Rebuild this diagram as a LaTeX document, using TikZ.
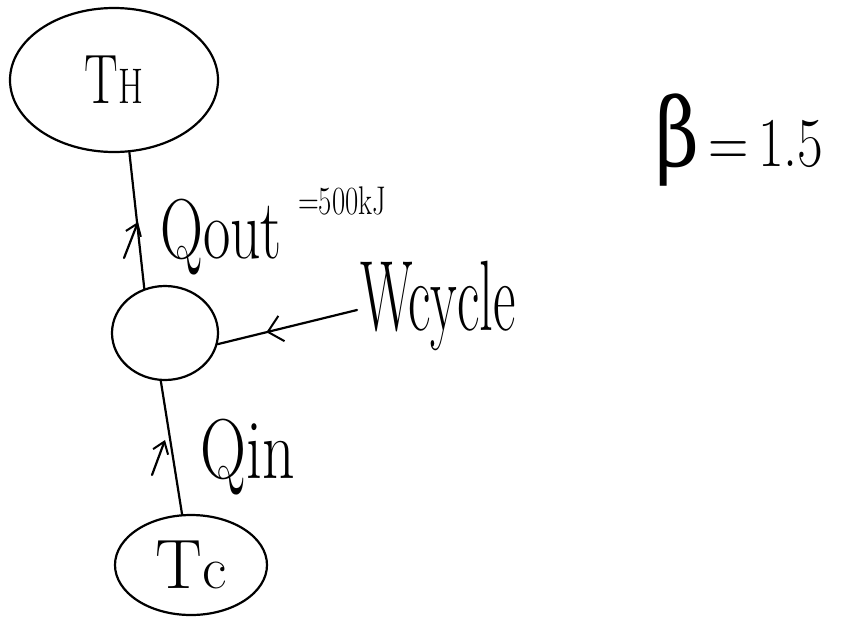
\documentclass[tikz,border=0pt]{standalone}
\usepackage{fontspec}
\newfontfamily\greekfont{DejaVu Serif}
\usetikzlibrary{shapes.geometric,arrows.meta,decorations.markings}
\tikzset{
  hand/.style={line width=2.2pt, line cap=round, line join=round},
  pool/.style={ellipse, draw, hand, inner sep=0pt},
  lbl/.style={inner sep=0pt, anchor=base west},
  barb/.style={hand, -{Straight Barb[length=11pt,width=16pt,line width=2pt]}},
  midbarb/.style={hand, postaction={decorate}, decoration={markings,
      mark=at position 0.65 with {\arrow{Straight Barb[length=14pt,width=26pt,line width=2pt]}}}},
}
\newcommand{\fsz}[1]{\fontsize{#1}{#1}\selectfont}
\begin{document}
\begin{tikzpicture}[x=1pt,y=-1pt]
\useasboundingbox (0,0) rectangle (854,616);

% reservoirs and cycle
\node[pool, minimum width=208pt, minimum height=144pt] (th) at (114,80)
  {\scalebox{0.72}[1]{\fsz{70}T\fsz{50}H}};
\node[pool, minimum width=106pt, minimum height=94pt] (mid) at (165,333) {};
\node[pool, minimum width=152pt, minimum height=100pt] (tc) at (191,565)
  {\fsz{70}T\fsz{60}c};

% connecting lines
\draw[hand] (th.-78) -- (mid.115);
\draw[hand] (mid.-95) -- (tc.100);

% small heat-flow arrows
\coordinate (qa1) at (124,258);
\coordinate (qa2) at (138,222);
\draw[barb] (qa1) -- (qa2);
\coordinate (qb1) at (152,475);
\coordinate (qb2) at (165,440);
\draw[barb] (qb1) -- (qb2);

% work arrow
\coordinate (wtail) at (357,310);
\draw[midbarb] (wtail) -- (mid.-12);

% labels
\node[lbl] (qout) at (160,258) {\scalebox{0.7}[1]{\fsz{85}Qout}};
\node[lbl] (qoutval) at (298,214) {\scalebox{0.72}[1]{\fsz{40}=500kJ}};
\node[lbl] (wc) at (360,330) {\scalebox{0.55}[1]{\fsz{100}Wcycle}};
\node[lbl] (qin) at (200,478) {\scalebox{0.75}[1]{\fsz{85}Qin}};
\node[lbl] (beta) at (655,166) {\scalebox{0.8}[1]{{\greekfont\fsz{95}β}\fsz{70}\,=\,1.5}};
\end{tikzpicture}
\end{document}
